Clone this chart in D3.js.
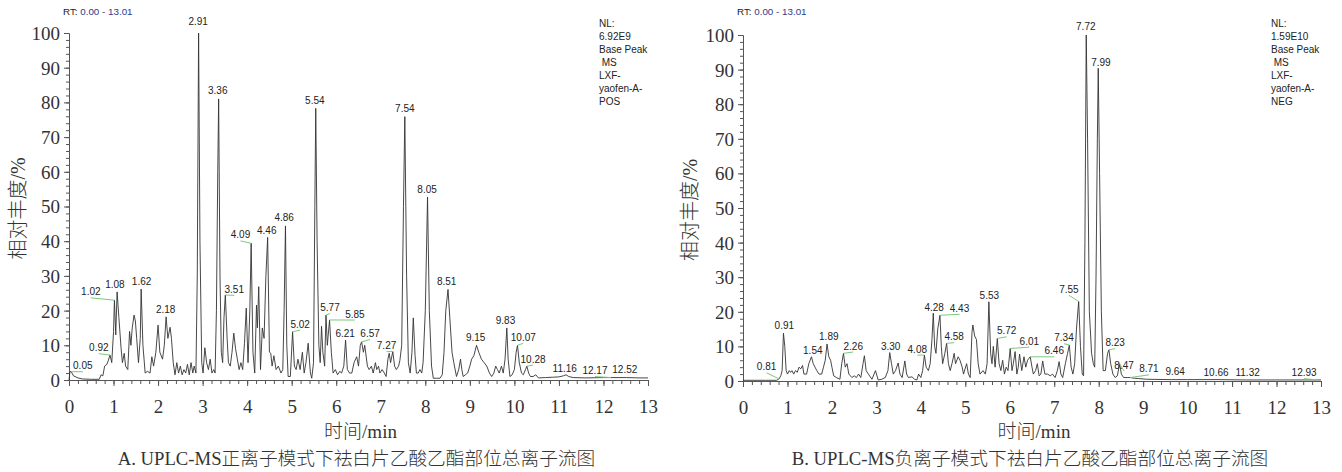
<!DOCTYPE html>
<html><head><meta charset="utf-8">
<script src="https://cdn.jsdelivr.net/npm/d3@7"></script>
<style>body{margin:0;background:#fff}svg{display:block}</style>
</head><body><svg id="c" width="1342" height="472"></svg>
<script>
// ---------- Panel A (positive ion) chromatogram ----------
const timeA = [0,0.02,0.05,0.1,0.2,0.3,0.5,0.68,0.72,0.76,0.8,0.85,0.88,0.92,0.96,1.0,1.02,1.05,1.08,1.12,1.17,1.2,1.24,1.27,1.32,1.36,1.39,1.42,1.46,1.49,1.52,1.56,1.6,1.62,1.66,1.71,1.76,1.82,1.86,1.9,1.95,2.0,2.04,2.1,2.14,2.18,2.22,2.27,2.3,2.34,2.38,2.42,2.46,2.5,2.54,2.58,2.62,2.66,2.7,2.74,2.78,2.81,2.85,2.88,2.91,2.94,2.98,3.01,3.05,3.09,3.13,3.17,3.21,3.25,3.28,3.31,3.34,3.36,3.39,3.42,3.45,3.48,3.51,3.55,3.58,3.62,3.66,3.7,3.74,3.78,3.82,3.86,3.9,3.94,3.98,4.02,4.06,4.09,4.13,4.17,4.21,4.23,4.26,4.3,4.34,4.38,4.42,4.46,4.5,4.53,4.56,4.6,4.65,4.7,4.76,4.8,4.83,4.86,4.89,4.92,4.97,5.02,5.06,5.1,5.14,5.19,5.24,5.28,5.32,5.37,5.42,5.45,5.49,5.52,5.54,5.57,5.61,5.64,5.67,5.7,5.74,5.77,5.8,5.85,5.89,5.93,5.98,6.03,6.08,6.12,6.17,6.21,6.25,6.3,6.35,6.4,6.46,6.5,6.54,6.57,6.61,6.64,6.7,6.74,6.79,6.83,6.88,6.91,6.95,6.98,7.03,7.08,7.12,7.16,7.19,7.22,7.27,7.31,7.35,7.4,7.43,7.47,7.51,7.54,7.58,7.62,7.66,7.7,7.73,7.77,7.8,7.84,7.88,7.92,7.95,8.0,8.05,8.09,8.14,8.18,8.25,8.33,8.38,8.42,8.46,8.51,8.55,8.6,8.64,8.7,8.75,8.79,8.82,8.85,8.9,8.95,9.0,9.04,9.09,9.15,9.2,9.26,9.32,9.38,9.44,9.49,9.54,9.58,9.62,9.66,9.71,9.75,9.79,9.83,9.86,9.9,9.95,10.0,10.04,10.07,10.11,10.16,10.2,10.25,10.28,10.32,10.36,10.42,10.48,10.54,10.7,10.85,11.0,11.1,11.16,11.22,11.32,11.6,12.0,12.17,12.52,12.8,13.0];
const abundA = [0,2.4,2.4,1.2,0.6,0.3,0.2,0.2,1.5,1.2,4,4.5,5.5,7.2,5,14,23,13,25.4,18,9,5,7.7,4,3,14,10,15,18.7,17,12,5,12,26.2,10,2,2.5,2,6.7,4,8,15.8,8,6,10,18.2,12,15.2,12,5,1.5,5,2,4,1.5,3,2,4.5,1.5,5,2,4,2,30,100,40,5,2,9.3,5,3,6,2,3,2,20,60,81,30,8,5,18,24.5,12,5,4,8,13.5,9,6,3,5,3,10.6,20.7,5,20,39.4,8,2,21.6,15,26.9,3,15,12,29.8,41.1,8,7.7,4,7,3,4,2,3,20,44.4,10,1,1,13.9,4,3,6,3,8,2,5,10.6,2,0.5,5,50,78.3,40,10,5,15.5,8,4,18.7,10,17.3,8,2,3,1.5,2.5,2,4,11.5,3,2,2,5,6.7,4,10,11,8,10,4,3,4,2,5,3,4,2,3,2,1,6,7.7,5,8.2,4,3,4,5.7,10,50,75.9,30,5,2,8,17.9,7,2,2,3,2,5,20,52.7,20,4,0.5,0.5,0.5,1.5,8,20,26.1,18,8,5,1,3,6,3,1,1.5,2,4,6,7,10,8,6,5,4,2,1,2,4,3,2,4,2,6,15,6,1,1.5,3,8,10,5,2,1.5,3,4,2,1,1,1.5,0.6,0.7,0.8,0.9,1.2,1.5,1,0.7,0.6,0.7,0.7,0.7,0.6,0.6];

// Peak annotations A: retention time, apex abundance, label centre time, label baseline abundance
const peakRtA = [0.05,0.92,1.02,1.08,1.62,2.18,2.91,3.36,3.51,4.09,4.46,4.86,5.02,5.54,5.77,5.85,6.21,6.57,7.27,7.54,8.05,8.51,9.15,9.83,10.07,10.28,11.16,12.17,12.52];
const peakAbA = [2.4,7.2,23,25.4,26.2,18.2,100,81,24.5,39.4,41.1,44.4,13.9,78.3,18.7,17.3,11.5,11,8.2,75.9,52.7,26.1,10,15,10,4,1.5,0.7,0.7];
const labelRtA = [0.31,0.67,0.49,1.03,1.63,2.17,2.9,3.34,3.71,3.85,4.44,4.83,5.19,5.52,5.86,6.42,6.2,6.76,7.13,7.54,8.04,8.48,9.13,9.8,10.2,10.42,11.13,11.81,12.48];
const labelAbA = [3.1,8.3,24.4,26.6,27.3,19.4,102.4,82.3,25.1,40.8,42.0,45.9,15.1,79.4,19.9,18.0,12.4,12.4,8.9,77.1,54.0,27.5,11.3,16.1,11.3,5.0,2.4,1.7,1.9];

// ---------- Panel B (negative ion) chromatogram ----------
const timeB = [0,0.5,0.76,0.81,0.85,0.88,0.91,0.94,0.97,1.0,1.04,1.07,1.1,1.14,1.18,1.22,1.26,1.3,1.34,1.37,1.43,1.48,1.54,1.58,1.62,1.66,1.71,1.77,1.81,1.85,1.89,1.93,1.97,2.0,2.04,2.1,2.18,2.22,2.26,2.3,2.34,2.38,2.45,2.5,2.55,2.6,2.65,2.7,2.73,2.77,2.82,2.9,2.98,3.04,3.12,3.2,3.26,3.3,3.34,3.38,3.43,3.49,3.53,3.58,3.64,3.68,3.72,3.8,3.86,3.91,3.95,4.0,4.04,4.08,4.12,4.17,4.21,4.25,4.28,4.31,4.34,4.38,4.43,4.46,4.49,4.54,4.58,4.62,4.66,4.7,4.75,4.78,4.84,4.88,4.93,4.96,5.03,5.07,5.11,5.15,5.17,5.21,5.25,5.29,5.33,5.4,5.45,5.49,5.53,5.57,5.6,5.63,5.67,5.72,5.76,5.8,5.84,5.88,5.92,5.96,6.01,6.05,6.08,6.12,6.16,6.19,6.22,6.27,6.32,6.36,6.4,6.46,6.5,6.53,6.58,6.62,6.66,6.7,6.74,6.79,6.85,6.91,6.96,7.02,7.07,7.11,7.15,7.19,7.25,7.3,7.34,7.38,7.42,7.46,7.5,7.55,7.59,7.63,7.66,7.69,7.72,7.75,7.79,7.84,7.88,7.91,7.94,7.97,7.99,8.02,8.06,8.1,8.15,8.2,8.23,8.27,8.32,8.37,8.42,8.47,8.51,8.56,8.64,8.71,8.8,8.9,9.08,9.64,10.0,10.66,11.32,12.0,12.93,13.0];
const abundB = [0.2,0.2,0.2,0.6,1.5,3,13.8,10,3,2,3,2.5,3,2,3,2.5,4,3.5,4.5,2,2,5,7,5,4,3,2,2,4,6,10.7,7,6,4,1.5,1,0.5,5,8,4,5,2,1,1.5,1,2,1,5,7.3,3,2,0.5,3,0.3,0.5,1,3,8.2,5,2,3,5.2,2,1,5.8,2,1,1.2,0.5,0.3,2,1,3,7.5,4,3,5,12,19.6,10,8,15,19,10,5,8,10.9,5,3,5,8,5,7,6,4,2,5,2,1,14,16.2,13,12,5,2,3,2,5,22.9,8,5,10,4,12.3,5,3,6,2,4,3,9.4,3,5,8.5,2,4,7.8,3,7,4,6,7,4,2,3,5,1.5,2,5.8,2,2,1.5,2,1,3,5.6,2,1,5,8,10.4,4,2,5,15,23,10,2,1.5,40,100,70,20,8,5,4,30,70,90.4,60,20,3,3,8,9,5,2,1,1.5,5,2,1,1,1,0.8,0.7,0.5,0.4,0.4,0.4,0.3,0.3,0.3,0.3];

const peakRtB = [0.81,0.91,1.54,1.89,2.26,3.30,4.08,4.28,4.43,4.58,5.53,5.72,6.01,6.46,7.34,7.55,7.72,7.99,8.23,8.47,8.71,9.64,10.66,11.32,12.93];
const peakAbB = [0.6,13.8,7,10.7,8,8.2,7.5,19.6,19,10.9,22.9,12.3,9.4,7,10.4,23,100,90.4,9,5,1,0.4,0.4,0.3,0.3];
const labelRtB = [0.53,0.93,1.57,1.93,2.48,3.32,3.92,4.3,4.87,4.75,5.54,5.93,6.44,7.0,7.22,7.33,7.71,8.05,8.37,8.57,9.13,9.72,10.64,11.35,12.62];
const labelAbB = [3.1,15.0,7.7,11.8,9.1,9.1,8.2,20.3,20.0,11.8,23.6,13.5,10.5,7.7,11.5,25.5,101.4,91.1,10.1,3.6,2.5,1.7,1.4,1.4,1.4];

// ---------- Axis ticks and texts ----------
const xMajorTicks = [0,1,2,3,4,5,6,7,8,9,10,11,12,13];
const yMajorTicks = [0,10,20,30,40,50,60,70,80,90,100];
const rtRangeText = "0.00 - 13.01";
const nlTextA = ["NL:","6.92E9","Base Peak"," MS","LXF-","yaofen-A-","POS"];
const nlTextB = ["NL:","1.59E10","Base Peak"," MS","LXF-","yaofen-A-","NEG"];
const yTitle = "相对丰度/%";
const xTitle = "时间/min";
const captionA = "A. UPLC-MS正离子模式下祛白片乙酸乙酯部位总离子流图";
const captionB = "B. UPLC-MS负离子模式下祛白片乙酸乙酯部位总离子流图";

// ---------- Drawing ----------
const svg = d3.select("#c");
const SERIF = "'Liberation Serif','Times New Roman','Noto Sans CJK SC',serif";
const SANS = "'Liberation Sans',Arial,sans-serif";

function panel(cfg){
  const x = d3.scaleLinear().domain([0,13]).range([cfg.x0,cfg.x1]);
  const y = d3.scaleLinear().domain([0,100]).range([cfg.y0,cfg.y1]);
  const g = svg.append("g");

  // minor ticks
  const minorX = d3.range(0,66).map(i=>i/5);
  g.append("g").attr("transform",`translate(0,${cfg.y0})`)
    .call(d3.axisBottom(x).tickValues(minorX).tickSize(4).tickSizeOuter(0).tickFormat(""))
    .call(a=>a.selectAll("line,path").attr("stroke","#555"));
  const minorY = d3.range(0,51).map(i=>i*2);
  g.append("g").attr("transform",`translate(${cfg.x0},0)`)
    .call(d3.axisLeft(y).tickValues(minorY).tickSize(3).tickSizeOuter(0).tickFormat(""))
    .call(a=>a.selectAll("line,path").attr("stroke","#555"));

  // major x axis
  const ax = g.append("g").attr("transform",`translate(0,${cfg.y0})`)
    .call(d3.axisBottom(x).tickValues(xMajorTicks).tickSize(6).tickSizeOuter(0).tickFormat(d3.format("d")));
  ax.selectAll("line,path").attr("stroke","#555");
  ax.selectAll("text").attr("y",33).attr("dy",0)
    .attr("font-family",SERIF).attr("font-size",19).attr("fill","#333");

  // major y axis
  const ay = g.append("g").attr("transform",`translate(${cfg.x0},0)`)
    .call(d3.axisLeft(y).tickValues(yMajorTicks).tickSize(5).tickPadding(4).tickSizeOuter(0).tickFormat(d3.format("d")));
  ay.selectAll("line,path").attr("stroke","#555");
  ay.selectAll("text").attr("font-family",SERIF).attr("font-size",19).attr("fill","#333").attr("dy","0.34em");

  // trace
  const pts = cfg.t.map((t,i)=>({t, v:cfg.v[i]}));
  g.append("path").datum(pts)
    .attr("d", d3.line().x(d=>x(d.t)).y(d=>y(d.v)))
    .attr("fill","none").attr("stroke","#333").attr("stroke-width",0.9).attr("stroke-linejoin","round");

  // peak labels + leader lines
  const fmt = d3.format(".2f");
  cfg.prt.forEach((rt,i)=>{
    const lx = x(cfg.lrt[i]), ly = y(cfg.lab[i]);
    const px = x(rt), py = y(cfg.pab[i]);
    if (Math.abs(lx-px) > 4) {
      g.append("line").attr("x1",lx).attr("y1",ly+2.5).attr("x2",px).attr("y2",Math.min(py, cfg.y0-1))
        .attr("stroke","#7cc97c").attr("stroke-width",1);
    }
    g.append("text").attr("x",lx).attr("y",ly).attr("text-anchor","middle")
      .attr("font-family",SANS).attr("font-size",10).attr("fill","#222").text(fmt(rt));
  });

  // RT range text
  const rtT = g.append("text").attr("x",cfg.x0-6).attr("y",15)
    .attr("font-family",SANS).attr("font-size",9.8).attr("fill","#222");
  rtT.append("tspan").text("RT: ");
  rtT.append("tspan").attr("fill","#2d3a8c").text(rtRangeText);

  // NL block
  g.append("g").selectAll("text").data(cfg.nl).join("text")
    .attr("x",cfg.nlx).attr("y",(d,i)=>27+i*13)
    .attr("xml:space","preserve").style("white-space","pre")
    .attr("font-family",SANS).attr("font-size",10).attr("fill","#222").text(d=>d);

  // y title
  g.append("text").attr("transform",`translate(${cfg.ytx},${(cfg.y0+cfg.y1)/2+2}) rotate(-90)`)
    .attr("text-anchor","middle").attr("dy","0.35em")
    .attr("font-family",SERIF).attr("font-size",20).attr("font-weight",300).attr("fill","#333").text(yTitle);

  // x title
  const cx = (cfg.x0+cfg.x1)/2;
  g.append("text").attr("x",cx+2).attr("y",438).attr("text-anchor","middle")
    .attr("font-family",SERIF).attr("font-size",19).attr("font-weight",300).attr("fill","#333").text(xTitle);

  // caption
  g.append("text").attr("x",cx-2).attr("y",465).attr("text-anchor","middle")
    .attr("font-family",SERIF).attr("font-size",18.7).attr("font-weight",300).attr("fill","#333").text(cfg.caption);
}

panel({x0:69,x1:648,y0:380,y1:33,t:timeA,v:abundA,prt:peakRtA,pab:peakAbA,lrt:labelRtA,lab:labelAbA,nl:nlTextA,nlx:599,ytx:18,caption:captionA});
panel({x0:743,x1:1321,y0:381,y1:35,t:timeB,v:abundB,prt:peakRtB,pab:peakAbB,lrt:labelRtB,lab:labelAbB,nl:nlTextB,nlx:1271,ytx:690,caption:captionB});
</script>
</body></html>
